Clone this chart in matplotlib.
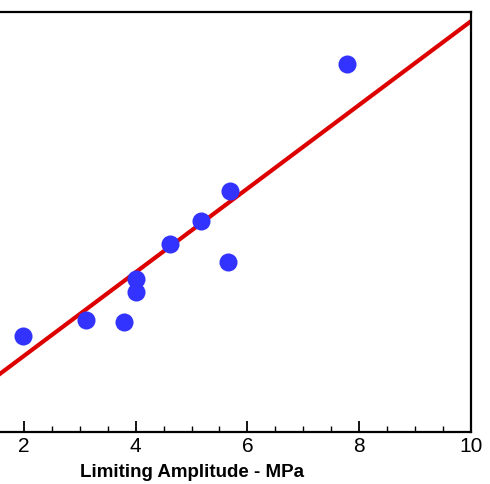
import numpy as np
import matplotlib.pyplot as plt

# data
amplitude = [1.99, 3.11, 3.79, 4.00, 4.01, 4.62, 5.17, 5.66, 5.68, 7.78]
response = [9.6, 11.2, 11.0, 15.3, 14.0, 18.8, 21.1, 17.0, 24.1, 36.8]
fit_slope = 4.185
fit_intercept = -0.77
xticks = [2, 4, 6, 8, 10]

plt.rcParams['font.family'] = ['Liberation Sans', 'DejaVu Sans']

fig = plt.figure(figsize=(4.9, 4.84), dpi=100)
# left part of the axes lies outside the picture, as in the reference
ax = fig.add_axes([-88 / 490, 1 - 432 / 484, 559 / 490, 420 / 484])

xf = np.array([0.0, 10.0])
ax.plot(xf, fit_slope * xf + fit_intercept, color='#dd0000', lw=3, zorder=2)
ax.plot(amplitude, response, 'o', color='#3333ff', ms=13, mec='none', zorder=3)

ax.set_xlim(0, 10)
ax.set_ylim(0, 42)
ax.set_xticks(xticks)
ax.set_xticks(np.arange(1.5, 10.01, 0.5), minor=True)
ax.tick_params(axis='x', which='major', direction='in', length=8, width=1.3,
               labelsize=15, pad=3.5)
ax.tick_params(axis='x', which='minor', direction='in', length=4.5, width=1)
ax.tick_params(axis='y', left=False, labelleft=False)
for s in ax.spines.values():
    s.set_linewidth(1.6)

ax.set_xlabel('Limiting Amplitude - MPa', fontsize=13.5, fontweight='bold', labelpad=6)

fig.savefig('out.png', dpi=100)
